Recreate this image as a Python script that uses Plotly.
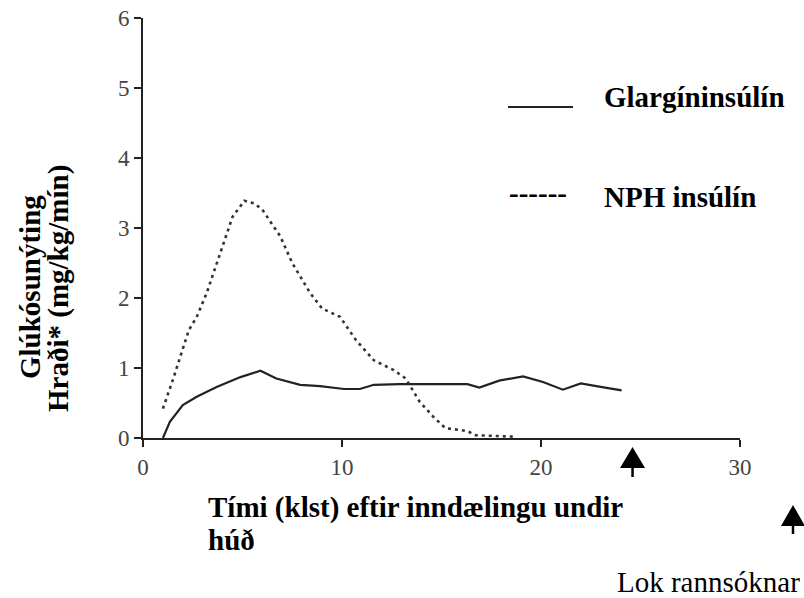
import plotly.graph_objects as go

# ---- data ----
glargine_hours = [1.0, 1.35, 2.0, 2.7, 3.7, 4.9, 5.9, 6.7, 7.9, 8.9, 10.1, 10.9, 11.6, 12.9, 14.4, 16.3, 16.9, 17.9, 19.1, 20.1, 21.1, 22.0, 23.0, 24.05]
glargine_rate  = [0.0, 0.23, 0.47, 0.59, 0.73, 0.87, 0.96, 0.85, 0.76, 0.74, 0.70, 0.70, 0.76, 0.77, 0.77, 0.77, 0.72, 0.82, 0.88, 0.80, 0.69, 0.78, 0.73, 0.68]

nph_hours = [1.0, 1.5, 2.3, 2.7, 3.2, 3.9, 4.5, 5.1, 5.6, 6.0, 6.9, 7.5, 8.4, 9.0, 9.9, 10.7, 11.6, 12.6, 13.2, 13.9, 14.6, 15.2, 16.3, 16.7, 18.6]
nph_rate  = [0.42, 0.83, 1.54, 1.73, 2.07, 2.64, 3.16, 3.39, 3.35, 3.26, 2.88, 2.50, 2.07, 1.85, 1.73, 1.40, 1.11, 0.97, 0.85, 0.52, 0.30, 0.14, 0.10, 0.04, 0.02]

x_ticks = [0, 10, 20, 30]
y_ticks = [0, 1, 2, 3, 4, 5, 6]
study_end_marker = 24.6

y_title_lines = ["Glúkósunýting", "Hraði* (mg/kg/mín)"]
x_title_lines = ["Tími (klst) eftir inndælingu undir", "húð"]
legend_labels = ["Glargíninsúlín", "NPH insúlín"]
end_label = "Lok rannsóknar"

# ---- layout geometry ----
W, H = 804, 598
L, R, T, B = 143, 64, 18, 160
PW, PH = W - L - R, H - T - B
XR = [0, 30]
YR = [0, 6]

def px(X):
    return (X - L) / PW

def py(Y):
    return (H - B - Y) / PH

SERIF = "Liberation Serif, Times New Roman, serif"
INK = "#222222"

fig = go.Figure()
fig.add_trace(go.Scatter(x=glargine_hours, y=glargine_rate, mode="lines",
                         line=dict(color=INK, width=2.2), name=legend_labels[0],
                         showlegend=False, hoverinfo="skip"))
fig.add_trace(go.Scatter(x=nph_hours, y=nph_rate, mode="lines",
                         line=dict(color="#333333", width=2.6, dash="3px,4px"), name=legend_labels[1],
                         showlegend=False, hoverinfo="skip"))

axis_common = dict(showgrid=False, zeroline=False, showline=True, linecolor=INK, linewidth=2,
                   ticks="outside", ticklen=7, tickwidth=2, tickcolor=INK,
                   tickfont=dict(family=SERIF, size=23, color="#444444"))
fig.update_xaxes(range=XR, tickvals=x_ticks, **axis_common)
fig.update_yaxes(range=YR, tickvals=y_ticks, **axis_common)

ann = []
# y-axis title (two rotated lines)
ann.append(dict(text=f"<b>{y_title_lines[0]}</b>", x=px(30), y=py(287), textangle=-90))
ann.append(dict(text=f"<b>{y_title_lines[1]}</b>", x=px(59), y=py(289), textangle=-90))
# x-axis title
ann.append(dict(text=f"<b>{x_title_lines[0]}</b>", x=px(206), y=py(507), xanchor="left"))
ann.append(dict(text=f"<b>{x_title_lines[1]}</b>", x=px(206), y=py(540), xanchor="left"))
# legend texts
ann.append(dict(text=f"<b>{legend_labels[0]}</b>", x=px(602), y=py(97), xanchor="left"))
ann.append(dict(text=f"<b>{legend_labels[1]}</b>", x=px(602), y=py(197), xanchor="left"))
ann.append(dict(text="<b>------</b>", x=px(507), y=py(193), xanchor="left"))
# end-of-study label
ann.append(dict(text=end_label, x=px(615), y=py(582), xanchor="left"))

annotations = []
for a in ann:
    base = dict(xref="paper", yref="paper", showarrow=False, xanchor="center", yanchor="middle",
                font=dict(family=SERIF, size=29, color="#000000"))
    base.update(a)
    annotations.append(base)

# arrows (study-end marker under axis, and legend arrow bottom right)
mx = L + (study_end_marker - XR[0]) / (XR[1] - XR[0]) * PW

def tri(cx, tip, base, half):
    return (f"M {px(cx - half)} {py(base)} L {px(cx)} {py(tip)} L {px(cx + half)} {py(base)} Z")

shapes = [
    dict(type="path", xref="paper", yref="paper", path=tri(mx, 447, 468, 12.5),
         fillcolor="#000000", line=dict(width=0)),
    dict(type="line", xref="paper", yref="paper", x0=px(mx), x1=px(mx), y0=py(467), y1=py(477),
         line=dict(color="#000000", width=2.5)),
    dict(type="path", xref="paper", yref="paper", path=tri(793, 505, 526, 12),
         fillcolor="#000000", line=dict(width=0)),
    dict(type="line", xref="paper", yref="paper", x0=px(793), x1=px(793), y0=py(525), y1=py(534),
         line=dict(color="#000000", width=2.5)),
    # legend solid key
    dict(type="line", xref="paper", yref="paper", x0=px(508), x1=px(573), y0=py(107), y1=py(107),
         line=dict(color="#222222", width=2.2)),
]

fig.update_layout(width=W, height=H, margin=dict(l=L, r=R, t=T, b=B, autoexpand=False),
                  paper_bgcolor="white", plot_bgcolor="white",
                  annotations=annotations, shapes=shapes, showlegend=False)

fig.write_html("out.html", config={"displayModeBar": False, "staticPlot": True},
               post_script="document.body.style.margin='0';document.body.style.padding='0';")
